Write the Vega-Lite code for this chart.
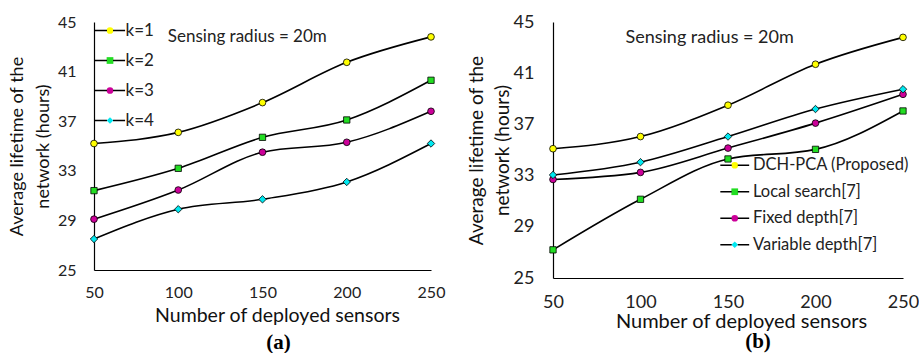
{
  "$schema": "https://vega.github.io/schema/vega-lite/v6.json",
  "padding": {"left": 8, "top": 8, "right": 0, "bottom": 0},
  "background": "white",
  "spacing": 22,
  "resolve": {"scale": {"fill": "independent", "shape": "independent", "stroke": "independent"}, "legend": {"fill": "independent", "shape": "independent", "stroke": "independent"}},
  "config": {
    "view": {"stroke": null},
    "font": "Lato",
    "legend": {"symbolStrokeColor": "black", "symbolStrokeWidth": 0.8, "symbolOpacity": 1, "labelLimit": 400},
    "axis": {"grid": false, "ticks": false, "domainColor": "black", "domainWidth": 1.2, "labelColor": "#222222", "titleColor": "#111111", "titleFontWeight": "normal", "labelFont": "Lato", "titleFont": "Lato", "labelFlush": false}
  },
  "datasets": {
    "a": [
      {"n": 50, "v": 35.2, "series": "k=1"}, {"n": 100, "v": 36.1, "series": "k=1"}, {"n": 150, "v": 38.5, "series": "k=1"}, {"n": 200, "v": 41.75, "series": "k=1"}, {"n": 250, "v": 43.8, "series": "k=1"},
      {"n": 50, "v": 31.4, "series": "k=2"}, {"n": 100, "v": 33.2, "series": "k=2"}, {"n": 150, "v": 35.7, "series": "k=2"}, {"n": 200, "v": 37.1, "series": "k=2"}, {"n": 250, "v": 40.3, "series": "k=2"},
      {"n": 50, "v": 29.1, "series": "k=3"}, {"n": 100, "v": 31.45, "series": "k=3"}, {"n": 150, "v": 34.5, "series": "k=3"}, {"n": 200, "v": 35.3, "series": "k=3"}, {"n": 250, "v": 37.8, "series": "k=3"},
      {"n": 50, "v": 27.5, "series": "k=4"}, {"n": 100, "v": 29.9, "series": "k=4"}, {"n": 150, "v": 30.7, "series": "k=4"}, {"n": 200, "v": 32.1, "series": "k=4"}, {"n": 250, "v": 35.2, "series": "k=4"}
    ],
    "b": [
      {"n": 50, "v": 35.1, "series": "DCH-PCA (Proposed)"}, {"n": 100, "v": 36.05, "series": "DCH-PCA (Proposed)"}, {"n": 150, "v": 38.5, "series": "DCH-PCA (Proposed)"}, {"n": 200, "v": 41.7, "series": "DCH-PCA (Proposed)"}, {"n": 250, "v": 43.8, "series": "DCH-PCA (Proposed)"},
      {"n": 50, "v": 27.2, "series": "Local search[7]"}, {"n": 100, "v": 31.15, "series": "Local search[7]"}, {"n": 150, "v": 34.3, "series": "Local search[7]"}, {"n": 200, "v": 35.05, "series": "Local search[7]"}, {"n": 250, "v": 38.05, "series": "Local search[7]"},
      {"n": 50, "v": 32.7, "series": "Fixed depth[7]"}, {"n": 100, "v": 33.25, "series": "Fixed depth[7]"}, {"n": 150, "v": 35.15, "series": "Fixed depth[7]"}, {"n": 200, "v": 37.1, "series": "Fixed depth[7]"}, {"n": 250, "v": 39.35, "series": "Fixed depth[7]"},
      {"n": 50, "v": 33.05, "series": "Variable depth[7]"}, {"n": 100, "v": 34.05, "series": "Variable depth[7]"}, {"n": 150, "v": 36.05, "series": "Variable depth[7]"}, {"n": 200, "v": 38.2, "series": "Variable depth[7]"}, {"n": 250, "v": 39.75, "series": "Variable depth[7]"}
    ],
    "noteA": [{"n": 141, "v": 43.8, "label": "Sensing radius = 20m"}],
    "noteB": [{"n": 139.5, "v": 43.75, "label": "Sensing radius = 20m"}]
  },
  "hconcat": [
    {
      "width": 337,
      "height": 248,
      "title": {"text": "(a)", "orient": "bottom", "font": "Liberation Serif", "fontSize": 21, "fontWeight": "bold", "color": "black", "dx": 16, "offset": 7},
      "resolve": {"axis": {"x": "independent"}, "scale": {"stroke": "independent"}, "legend": {"stroke": "independent"}},
      "layer": [
        {
          "data": {"name": "a"},
          "mark": {"type": "line", "color": "black", "strokeWidth": 1.6, "interpolate": "monotone"},
          "encoding": {
            "x": {"field": "n", "type": "quantitative", "scale": {"domain": [50, 250], "nice": false, "zero": false},
              "axis": {"values": [50, 100, 150, 200, 250], "title": "Number of deployed sensors", "labelFontSize": 16, "titleFontSize": 19.5, "labelPadding": 14, "titlePadding": 6, "titleX": 183}},
            "y": {"field": "v", "type": "quantitative", "scale": {"domain": [25, 45], "nice": false, "zero": false},
              "axis": {"values": [25, 29, 33, 37, 41, 45], "title": ["Average lifetime of the", "network (hours)"], "labelFontSize": 16, "titleFontSize": 18, "labelPadding": 18, "titlePadding": 5, "titleLineHeight": 26}},
            "detail": {"field": "series"}
          }
        },
        {
          "data": {"name": "a"},
          "mark": {"type": "point", "filled": true, "color": "black", "size": 45, "opacity": 0},
          "encoding": {
            "x": {"field": "n", "type": "quantitative", "axis": null},
            "y": {"field": "v", "type": "quantitative"},
            "stroke": {"field": "series", "type": "nominal", "scale": {"range": ["black"]},
              "legend": {"title": null, "orient": "none", "legendX": 7.5, "legendY": 0, "labelFont": "Lato", "labelFontSize": 17, "labelOpacity": 0, "labelExpr": "' '", "labelOffset": 7, "rowPadding": 12, "symbolType": "M-4.5,-0.22H-0.9V0.22H-4.5Z M0.9,-0.22H4.5V0.22H0.9Z", "symbolFillColor": "black", "symbolStrokeWidth": 0, "symbolOpacity": 1, "symbolSize": 45, "padding": 0}}
          }
        },
        {
          "data": {"name": "a"},
          "mark": {"type": "point", "filled": true, "stroke": "black", "strokeWidth": 0.8, "size": 45, "opacity": 0},
          "encoding": {
            "x": {"field": "n", "type": "quantitative", "axis": null},
            "y": {"field": "v", "type": "quantitative"},
            "shape": {"field": "series", "scale": {"domain": ["k=1", "k=2", "k=3", "k=4"], "range": ["circle", "square", "circle", "diamond"]},
              "legend": {"title": null, "orient": "none", "legendX": 7.5, "legendY": 0, "labelFont": "Lato", "labelFontSize": 17, "labelColor": "#222222", "labelOffset": 7, "rowPadding": 12, "symbolOpacity": 1, "symbolSize": 45, "padding": 0}},
            "fill": {"field": "series", "scale": {"domain": ["k=1", "k=2", "k=3", "k=4"], "range": ["#ffff00", "#22dd22", "#cc0099", "#00e8f0"]},
              "legend": {"title": null, "orient": "none", "legendX": 7.5, "legendY": 0, "labelFont": "Lato", "labelFontSize": 17, "labelColor": "#222222", "labelOffset": 7, "rowPadding": 12, "symbolOpacity": 1, "symbolSize": 45, "padding": 0}}
          }
        },
        {
          "data": {"name": "a"},
          "transform": [{"filter": "datum.series === 'k=1' || datum.series === 'k=3'"}],
          "mark": {"type": "point", "shape": "circle", "filled": true, "stroke": "black", "strokeWidth": 0.8, "size": 45, "opacity": 1},
          "encoding": {
            "x": {"field": "n", "type": "quantitative", "axis": null},
            "y": {"field": "v", "type": "quantitative"},
            "fill": {"field": "series", "legend": null}
          }
        },
        {
          "data": {"name": "a"},
          "transform": [{"filter": "datum.series === 'k=2'"}],
          "mark": {"type": "point", "shape": "square", "filled": true, "stroke": "black", "strokeWidth": 0.8, "size": 40, "opacity": 1},
          "encoding": {
            "x": {"field": "n", "type": "quantitative", "axis": null},
            "y": {"field": "v", "type": "quantitative"},
            "fill": {"field": "series", "legend": null}
          }
        },
        {
          "data": {"name": "a"},
          "transform": [{"filter": "datum.series === 'k=4'"}],
          "mark": {"type": "point", "shape": "diamond", "filled": true, "stroke": "black", "strokeWidth": 0.8, "size": 55, "opacity": 1},
          "encoding": {
            "x": {"field": "n", "type": "quantitative", "axis": null},
            "y": {"field": "v", "type": "quantitative"},
            "fill": {"field": "series", "legend": null}
          }
        },
        {
          "data": {"name": "noteA"},
          "mark": {"type": "text", "fontSize": 17, "color": "#222222", "font": "Lato"},
          "encoding": {
            "x": {"field": "n", "type": "quantitative", "axis": {"orient": "top", "domain": false, "ticks": false, "labels": false, "title": null, "minExtent": 14, "maxExtent": 14}},
            "y": {"field": "v", "type": "quantitative"},
            "text": {"field": "label"}
          }
        }
      ]
    },
    {
      "width": 350,
      "height": 256,
      "title": {"text": "(b)", "orient": "bottom", "font": "Liberation Serif", "fontSize": 21, "fontWeight": "bold", "color": "black", "dx": 30, "offset": 0},
      "resolve": {"scale": {"stroke": "independent"}, "legend": {"stroke": "independent"}},
      "layer": [
        {
          "data": {"name": "b"},
          "mark": {"type": "line", "color": "black", "strokeWidth": 1.6, "interpolate": "monotone"},
          "encoding": {
            "x": {"field": "n", "type": "quantitative", "scale": {"domain": [50, 250], "nice": false, "zero": false},
              "axis": {"values": [50, 100, 150, 200, 250], "title": "Number of deployed sensors", "labelFontSize": 18, "titleFontSize": 20, "labelPadding": 15, "titlePadding": 0, "titleX": 188}},
            "y": {"field": "v", "type": "quantitative", "scale": {"domain": [25, 45], "nice": false, "zero": false},
              "axis": {"values": [25, 29, 33, 37, 41, 45], "title": ["Average lifetime of the", "network (hours)"], "labelFontSize": 18, "titleFontSize": 19, "labelPadding": 19, "titlePadding": 1, "titleLineHeight": 26}},
            "detail": {"field": "series"}
          }
        },
        {
          "data": {"name": "b"},
          "mark": {"type": "point", "filled": true, "color": "black", "size": 45, "opacity": 0},
          "encoding": {
            "x": {"field": "n", "type": "quantitative"},
            "y": {"field": "v", "type": "quantitative"},
            "stroke": {"field": "series", "type": "nominal", "scale": {"range": ["black"]},
              "legend": {"title": null, "orient": "none", "legendX": 173.5, "legendY": 135, "labelFont": "Lato", "labelFontSize": 16.5, "labelOpacity": 0, "labelExpr": "' '", "labelOffset": 10, "rowPadding": 9.5, "symbolType": "M-4.3,-0.22H-0.9V0.22H-4.3Z M0.9,-0.22H4.3V0.22H0.9Z", "symbolFillColor": "black", "symbolStrokeWidth": 0, "symbolOpacity": 1, "symbolSize": 45, "padding": 0}}
          }
        },
        {
          "data": {"name": "b"},
          "mark": {"type": "point", "filled": true, "stroke": "black", "strokeWidth": 0.8, "size": 45, "opacity": 0},
          "encoding": {
            "x": {"field": "n", "type": "quantitative"},
            "y": {"field": "v", "type": "quantitative"},
            "shape": {"field": "series", "scale": {"domain": ["DCH-PCA (Proposed)", "Local search[7]", "Fixed depth[7]", "Variable depth[7]"], "range": ["circle", "square", "circle", "diamond"]},
              "legend": {"title": null, "orient": "none", "legendX": 173.5, "legendY": 135, "labelFont": "Lato", "labelFontSize": 16.5, "labelColor": "#222222", "labelOffset": 10, "rowPadding": 9.5, "symbolOpacity": 1, "symbolSize": 45, "padding": 0}},
            "fill": {"field": "series", "scale": {"domain": ["DCH-PCA (Proposed)", "Local search[7]", "Fixed depth[7]", "Variable depth[7]"], "range": ["#ffff00", "#22dd22", "#cc0099", "#00e8f0"]},
              "legend": {"title": null, "orient": "none", "legendX": 173.5, "legendY": 135, "labelFont": "Lato", "labelFontSize": 16.5, "labelColor": "#222222", "labelOffset": 10, "rowPadding": 9.5, "symbolOpacity": 1, "symbolSize": 45, "padding": 0}}
          }
        },
        {
          "data": {"name": "b"},
          "transform": [{"filter": "datum.series === 'DCH-PCA (Proposed)' || datum.series === 'Fixed depth[7]'"}],
          "mark": {"type": "point", "shape": "circle", "filled": true, "stroke": "black", "strokeWidth": 0.8, "size": 45, "opacity": 1},
          "encoding": {
            "x": {"field": "n", "type": "quantitative"},
            "y": {"field": "v", "type": "quantitative"},
            "fill": {"field": "series", "legend": null}
          }
        },
        {
          "data": {"name": "b"},
          "transform": [{"filter": "datum.series === 'Local search[7]'"}],
          "mark": {"type": "point", "shape": "square", "filled": true, "stroke": "black", "strokeWidth": 0.8, "size": 40, "opacity": 1},
          "encoding": {
            "x": {"field": "n", "type": "quantitative"},
            "y": {"field": "v", "type": "quantitative"},
            "fill": {"field": "series", "legend": null}
          }
        },
        {
          "data": {"name": "b"},
          "transform": [{"filter": "datum.series === 'Variable depth[7]'"}],
          "mark": {"type": "point", "shape": "diamond", "filled": true, "stroke": "black", "strokeWidth": 0.8, "size": 55, "opacity": 1},
          "encoding": {
            "x": {"field": "n", "type": "quantitative"},
            "y": {"field": "v", "type": "quantitative"},
            "fill": {"field": "series", "legend": null}
          }
        },
        {
          "data": {"name": "noteB"},
          "mark": {"type": "text", "fontSize": 18, "color": "#222222", "font": "Lato"},
          "encoding": {
            "x": {"field": "n", "type": "quantitative"},
            "y": {"field": "v", "type": "quantitative"},
            "text": {"field": "label"}
          }
        }
      ]
    }
  ]
}
